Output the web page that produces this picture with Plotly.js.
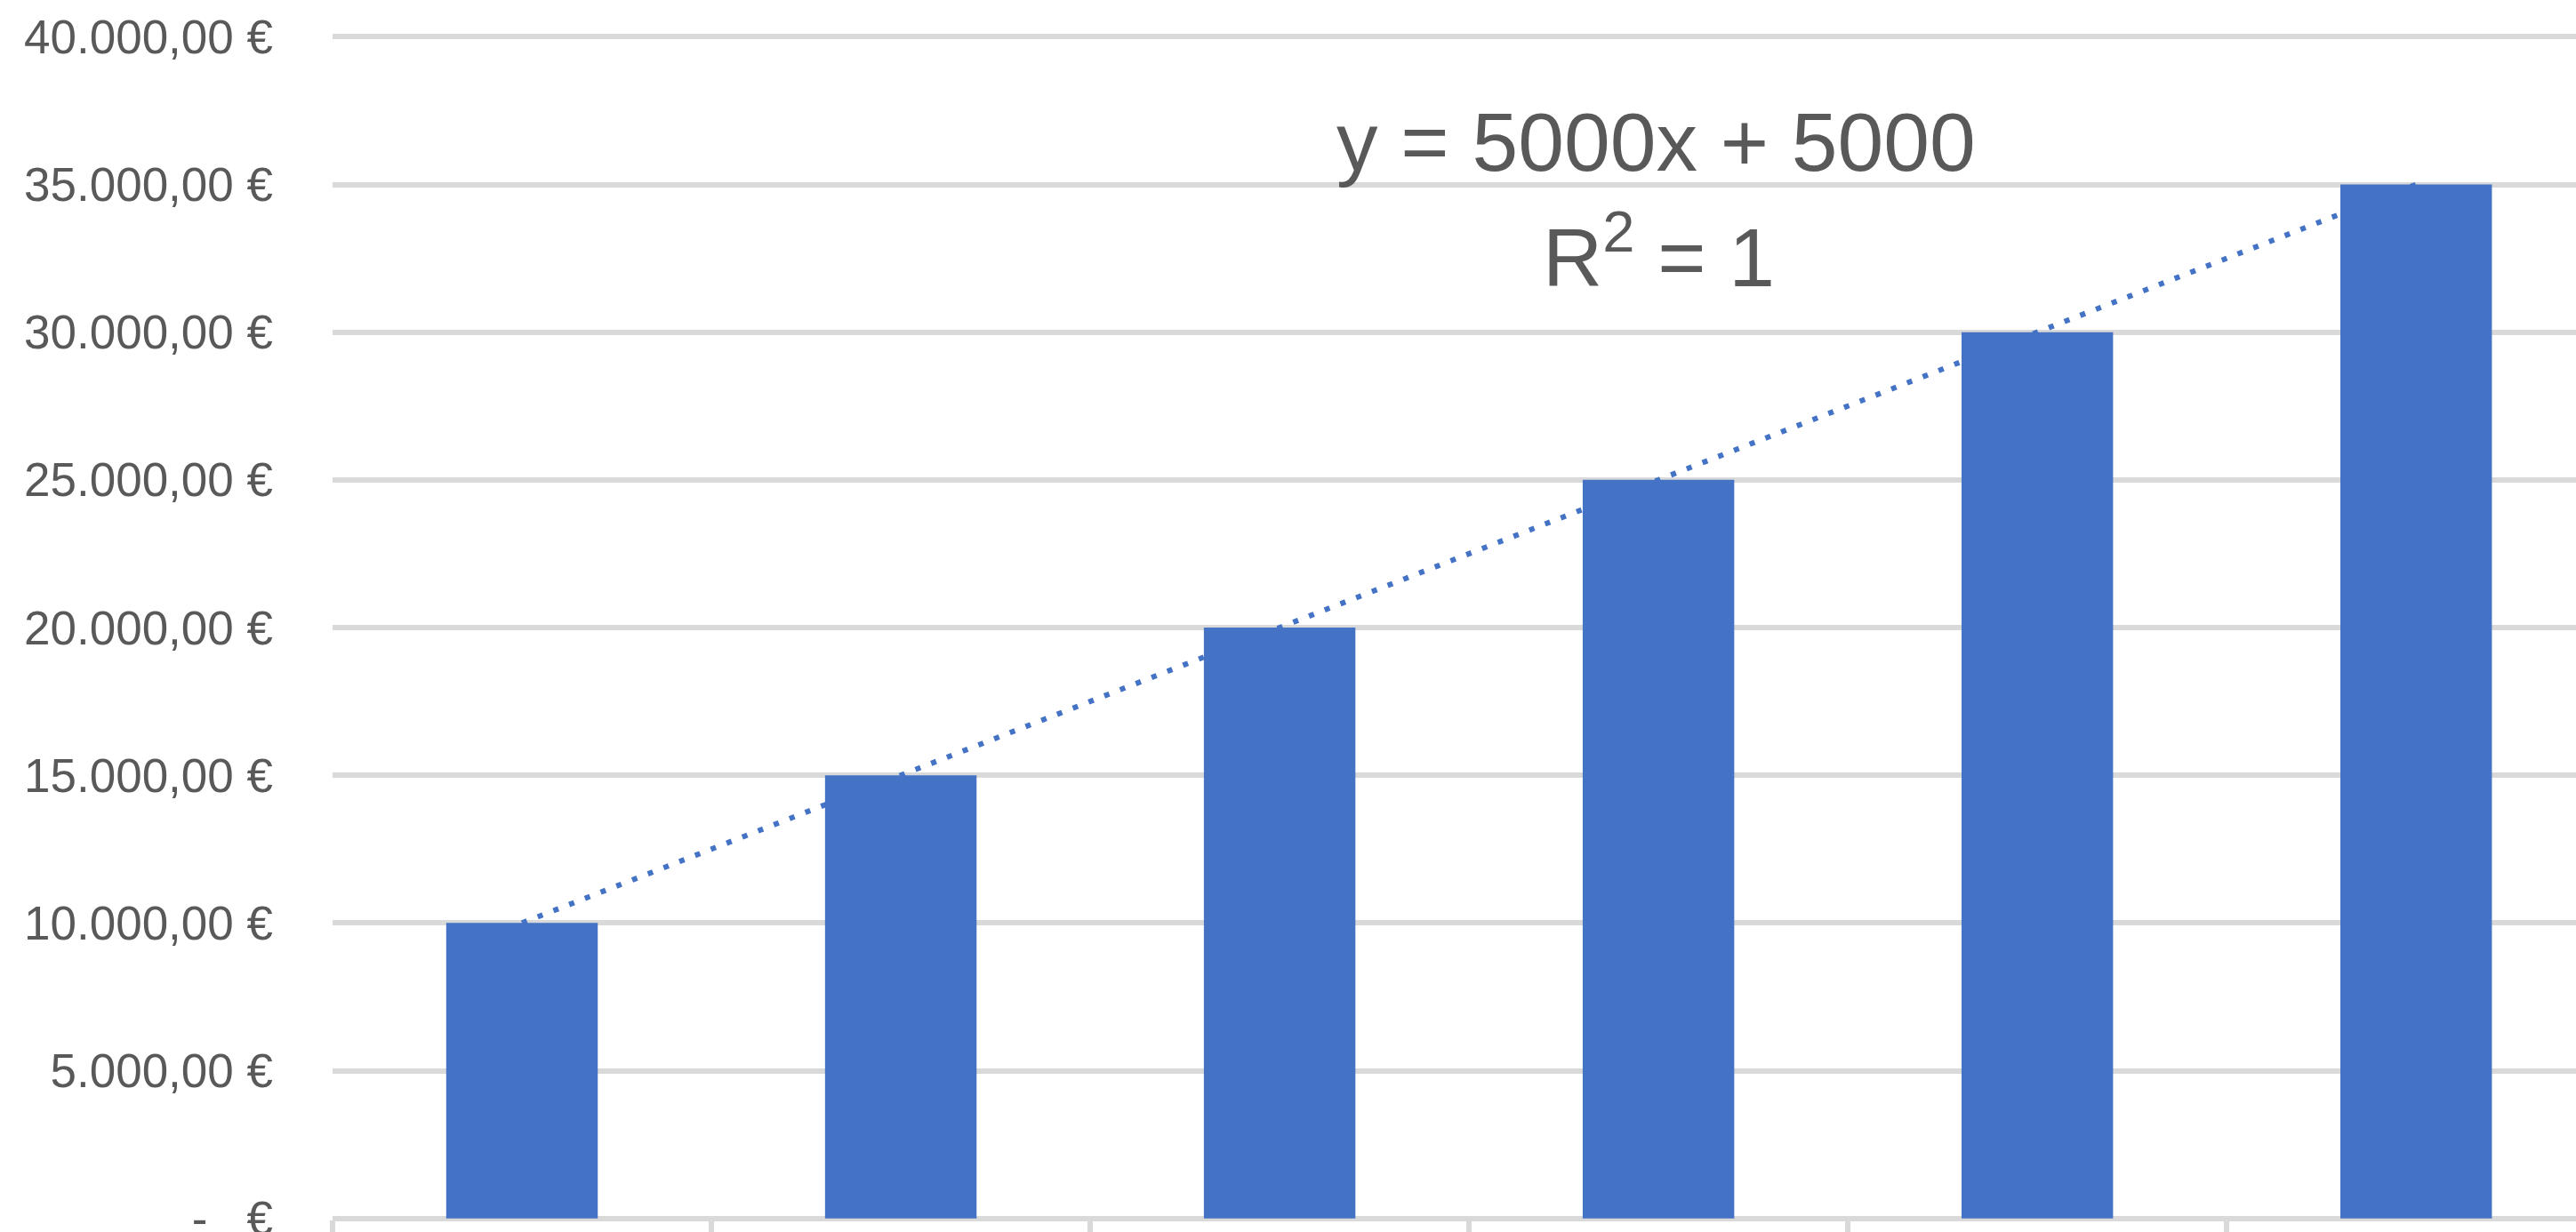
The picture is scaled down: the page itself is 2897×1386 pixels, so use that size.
<!DOCTYPE html>
<html>
<head>
<meta charset="utf-8">
<script src="https://cdn.plot.ly/plotly-3.0.1.min.js"></script>
<style>
  html, body { margin: 0; padding: 0; background: #ffffff; }
  #chart { width: 2897px; height: 1386px; }
</style>
</head>
<body>
<div id="chart"></div>
<script>
// ---- data ----
const categories = ['1', '2', '3', '4', '5', '6'];
const values = [10000, 15000, 20000, 25000, 30000, 35000];
const trendValues = [10000, 15000, 20000, 25000, 30000, 35000];
const yTickVals = [0, 5000, 10000, 15000, 20000, 25000, 30000, 35000, 40000];
const yTickText = ['-\u00a0\u00a0\u00a0€', '5.000,00 €', '10.000,00 €', '15.000,00 €', '20.000,00 €',
                   '25.000,00 €', '30.000,00 €', '35.000,00 €', '40.000,00 €'];
const equationLine = 'y = 5000x + 5000';
const rSquaredLine = 'R<sup>2</sup> = 1';

// ---- styles ----
const barColor = '#4472C4';
const gridColor = '#D9D9D9';
const textColor = '#595959';
const fontFamily = '"Liberation Sans", Arial, sans-serif';

const trendTrace = {
  type: 'scatter',
  mode: 'lines',
  x: categories,
  y: trendValues,
  line: { color: barColor, width: 6, dash: '6px,13px' },
  hoverinfo: 'skip',
  showlegend: false,
  zorder: 0
};

const barTrace = {
  type: 'bar',
  x: categories,
  y: values,
  width: 0.4,
  marker: { color: barColor, line: { width: 0 } },
  showlegend: false,
  zorder: 1
};

const layout = {
  width: 2897,
  height: 1386,
  margin: { l: 374, r: 0, t: 40, b: 14, pad: 0 },
  paper_bgcolor: '#ffffff',
  plot_bgcolor: '#ffffff',
  showlegend: false,
  font: { family: fontFamily, color: textColor, size: 53 },
  xaxis: {
    type: 'category',
    range: [-0.5, 5.422],
    showgrid: false,
    zeroline: false,
    showline: false,
    ticks: 'outside',
    tickson: 'boundaries',
    ticklen: 24,
    tickwidth: 6,
    tickcolor: gridColor,
    showticklabels: false,
    fixedrange: true
  },
  yaxis: {
    range: [-40, 40040],
    tickmode: 'array',
    tickvals: yTickVals,
    ticktext: yTickText,
    showgrid: true,
    gridcolor: gridColor,
    gridwidth: 6,
    zeroline: false,
    showline: false,
    ticks: '',
    ticklabelstandoff: 66,
    ticklabeloverflow: 'allow',
    tickfont: { family: fontFamily, color: textColor, size: 53 },
    fixedrange: true
  },
  annotations: [{
    xref: 'paper', yref: 'paper',
    x: 0.590, y: 0.9102,
    xanchor: 'center', yanchor: 'middle',
    text: equationLine,
    showarrow: false,
    font: { family: fontFamily, color: textColor, size: 93 }
  }, {
    xref: 'paper', yref: 'paper',
    x: 0.591, y: 0.8179,
    xanchor: 'center', yanchor: 'middle',
    text: rSquaredLine,
    showarrow: false,
    font: { family: fontFamily, color: textColor, size: 93 }
  }]
};

Plotly.newPlot('chart', [trendTrace, barTrace], layout, { displayModeBar: false, staticPlot: true });
</script>
</body>
</html>
